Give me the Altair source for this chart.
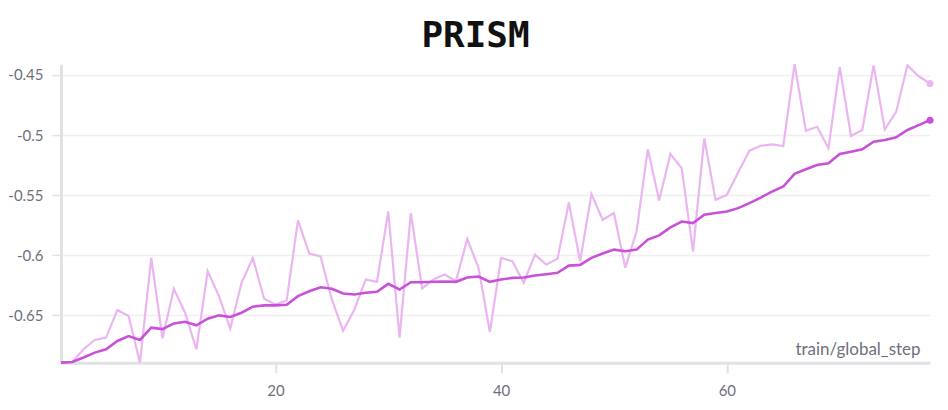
import altair as alt
import pandas as pd

steps = list(range(1, 79))

raw = [
    -0.6893, -0.6890, -0.6782, -0.6705, -0.6685, -0.6456, -0.6506, -0.6895, -0.6022, -0.6691,
    -0.6279, -0.6478, -0.6782, -0.6133, -0.6340, -0.6611, -0.6229, -0.6022, -0.6362, -0.6409,
    -0.6376, -0.5710, -0.5986, -0.6009, -0.6368, -0.6629, -0.6451, -0.6202, -0.6221, -0.5636,
    -0.6685, -0.5649, -0.6277, -0.6202, -0.6160, -0.6216, -0.5865, -0.6105, -0.6639, -0.6022,
    -0.6050, -0.6229, -0.5995, -0.6078, -0.6028, -0.5561, -0.6050, -0.5491, -0.5705, -0.5649,
    -0.6105, -0.5802, -0.5118, -0.5545, -0.5157, -0.5276, -0.5967, -0.5027, -0.5539, -0.5497,
    -0.5312, -0.5130, -0.5089, -0.5077, -0.5091, -0.4410, -0.4964, -0.4931, -0.5110, -0.4434,
    -0.5008, -0.4958, -0.4420, -0.4953, -0.4807, -0.4420, -0.4511, -0.4571,
]

smooth = [
    -0.6893, -0.6888, -0.6851, -0.6810, -0.6782, -0.6713, -0.6672, -0.6705, -0.6602, -0.6614,
    -0.6567, -0.6553, -0.6583, -0.6528, -0.6500, -0.6514, -0.6478, -0.6428, -0.6417, -0.6417,
    -0.6412, -0.6340, -0.6299, -0.6266, -0.6279, -0.6318, -0.6326, -0.6312, -0.6304, -0.6238,
    -0.6285, -0.6224, -0.6224, -0.6221, -0.6218, -0.6221, -0.6185, -0.6177, -0.6221, -0.6202,
    -0.6188, -0.6185, -0.6169, -0.6158, -0.6146, -0.6086, -0.6080, -0.6022, -0.5986, -0.5953,
    -0.5967, -0.5953, -0.5870, -0.5835, -0.5768, -0.5719, -0.5732, -0.5663, -0.5649, -0.5636,
    -0.5608, -0.5566, -0.5520, -0.5470, -0.5428, -0.5323, -0.5284, -0.5249, -0.5235, -0.5157,
    -0.5138, -0.5118, -0.5055, -0.5041, -0.5019, -0.4958, -0.4917, -0.4876,
]

y_ticks = [-0.65, -0.6, -0.55, -0.5, -0.45]
x_ticks = [20, 40, 60]
title_text = ["PRISM"]

df = pd.DataFrame({"step": steps, "raw": raw, "smooth": smooth})
last = df.tail(1)

RAW_COLOR = "#ebb5f1"
SMOOTH_COLOR = "#c951d7"
LABEL_COLOR = "#6f6f7c"
AXIS_COLOR = "#e2e2e6"
FONT = "Lato"

x_scale = alt.Scale(domain=[1, 78], nice=False, zero=False)
y_scale = alt.Scale(domain=[-0.6895, -0.441], nice=False, zero=False)

x_enc = alt.X(
    "step:Q",
    scale=x_scale,
    axis=alt.Axis(
        values=x_ticks,
        title="train/global_step",
        titleX=860,
        titleY=-8,
        titleAlign="right",
        titleAnchor="end",
        titleBaseline="alphabetic",
        titleFont=FONT,
        titleFontSize=17,
        titleFontWeight="normal",
        titleColor=LABEL_COLOR,
        grid=False,
        domainColor=AXIS_COLOR,
        domainWidth=3,
        tickColor=AXIS_COLOR,
        tickWidth=2,
        tickSize=10,
        labelPadding=11,
        labelFont=FONT,
        labelFontSize=15,
        labelColor=LABEL_COLOR,
    ),
)

y_axis = alt.Axis(
    values=y_ticks,
    labelExpr="toString(datum.value)",
    title=None,
    grid=True,
    gridColor="#efeff2",
    gridWidth=1.5,
    domainColor=AXIS_COLOR,
    domainWidth=3,
    tickColor=AXIS_COLOR,
    tickWidth=1.5,
    tickSize=9,
    labelPadding=9,
    labelFont=FONT,
    labelFontSize=15,
    labelColor=LABEL_COLOR,
)

raw_line = alt.Chart(df).mark_line(color=RAW_COLOR, strokeWidth=2.2).encode(
    x=x_enc,
    y=alt.Y("raw:Q", scale=y_scale, axis=y_axis),
)
smooth_line = alt.Chart(df).mark_line(color=SMOOTH_COLOR, strokeWidth=2.6).encode(
    x=alt.X("step:Q", scale=x_scale),
    y=alt.Y("smooth:Q", scale=y_scale),
)
raw_pt = alt.Chart(last).mark_circle(color=RAW_COLOR, size=50, opacity=1).encode(
    x=alt.X("step:Q", scale=x_scale),
    y=alt.Y("raw:Q", scale=y_scale),
)
smooth_pt = alt.Chart(last).mark_circle(color=SMOOTH_COLOR, size=50, opacity=1).encode(
    x=alt.X("step:Q", scale=x_scale),
    y=alt.Y("smooth:Q", scale=y_scale),
)
title_mark = alt.Chart(pd.DataFrame({"t": title_text})).mark_text(
    font="DejaVu Sans Mono",
    fontSize=36,
    fontWeight="bold",
    color="#111111",
    align="center",
    baseline="alphabetic",
).encode(text="t:N", x=alt.value(415), y=alt.value(-17))

chart = (
    alt.layer(raw_line, smooth_line, raw_pt, smooth_pt, title_mark)
    .properties(
        width=870,
        height=299,
        autosize=alt.AutoSizeParams(type="none"),
        padding={"left": 53, "top": 56, "right": 10, "bottom": 40},
    )
    .configure_view(stroke=None)
)

chart.save("out.html", embed_options={"renderer": "svg", "actions": False})
